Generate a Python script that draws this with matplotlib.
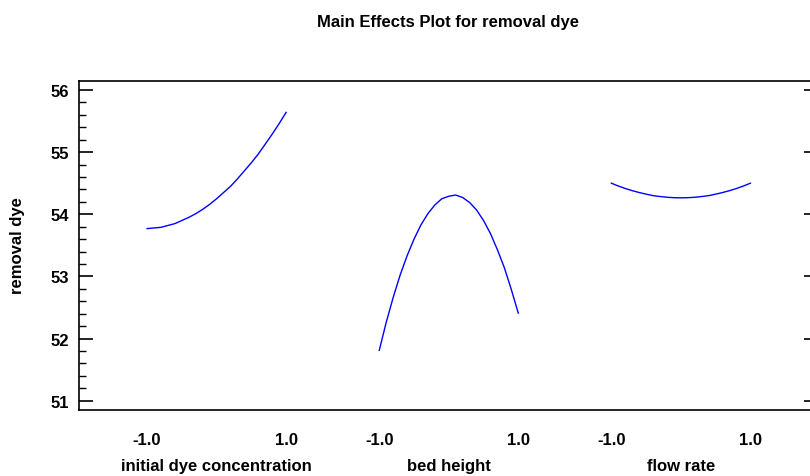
import matplotlib
matplotlib.use("Agg")
import matplotlib.pyplot as plt
from matplotlib.ticker import MultipleLocator
import matplotlib.transforms as mtransforms

plt.rcParams['font.family'] = ['Liberation Sans', 'DejaVu Sans']

title = "Main Effects Plot for removal dye"
y_label = "removal dye"
factors = ["initial dye concentration", "bed height", "flow rate"]
coded_levels = [-1.0, -0.9, -0.8, -0.7, -0.6, -0.5, -0.4, -0.3, -0.2, -0.1, 0.0,
                0.1, 0.2, 0.3, 0.4, 0.5, 0.6, 0.7, 0.8, 0.9, 1.0]
dye_conc = [53.77, 53.78, 53.79, 53.82, 53.85, 53.90, 53.95, 54.01, 54.08, 54.16, 54.25,
            54.35, 54.45, 54.57, 54.70, 54.83, 54.97, 55.13, 55.29, 55.46, 55.64]
bed_height = [51.81, 52.26, 52.66, 53.02, 53.33, 53.60, 53.83, 54.01, 54.15, 54.25, 54.29,
              54.31, 54.27, 54.19, 54.07, 53.90, 53.69, 53.43, 53.14, 52.79, 52.41]
flow_rate = [54.50, 54.455, 54.415, 54.38, 54.35, 54.324, 54.30, 54.286, 54.274, 54.267, 54.265,
             54.267, 54.274, 54.286, 54.30, 54.324, 54.35, 54.38, 54.415, 54.455, 54.50]
series = [dye_conc, bed_height, flow_rate]
x_tick_labels = ["-1.0", "1.0"]

spacing = 3.34

fig = plt.figure(figsize=(8.1, 4.77), dpi=100)
ax = fig.add_axes([79/810, 1 - 410.7/477, (818.5 - 79)/810, (410.7 - 82)/477])

for i, vals in enumerate(series):
    xs = [c + i * spacing for c in coded_levels]
    ax.plot(xs, vals, color='#0000ff', lw=1.0)

ax.set_xlim(-1.98, 2 * spacing + 1.98)
ax.set_ylim(50.855, 56.145)

ticks = []
labels = []
for i in range(len(factors)):
    ticks += [-1 + i * spacing, 1 + i * spacing]
    labels += x_tick_labels
ax.set_xticks(ticks)
ax.set_xticklabels(labels, fontsize=12, fontweight='bold')
ax.tick_params(axis='x', length=0, pad=16)

ax.yaxis.set_major_locator(MultipleLocator(1))
ax.yaxis.set_minor_locator(MultipleLocator(0.2))
ax.tick_params(axis='y', which='major', direction='in', length=10, width=1.2,
               right=True, labelsize=12, pad=7)
ax.tick_params(axis='y', which='minor', direction='in', length=4.7, width=1.0, right=False)
for lab in ax.get_yticklabels():
    lab.set_fontweight('bold')

for s in ax.spines.values():
    s.set_linewidth(1.2)

trans = mtransforms.blended_transform_factory(ax.transData, fig.transFigure)
for i, name in enumerate(factors):
    ax.text(i * spacing, 1 - 467/477, name, transform=trans, ha='center', va='center',
            fontsize=12, fontweight='bold')

fig.text(448/810, 1 - 22.5/477, title, ha='center', va='center', fontsize=12, fontweight='bold')
fig.text(18/810, 1 - 246/477, y_label, rotation=90, ha='center', va='center',
         fontsize=12, fontweight='bold')

fig.savefig("out.png", dpi=100)
